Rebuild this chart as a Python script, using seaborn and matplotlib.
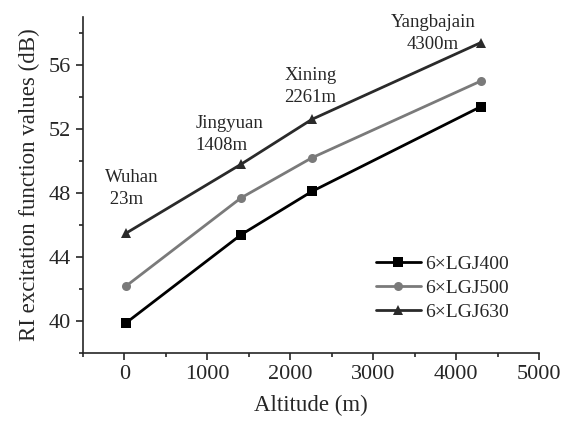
import pandas as pd
import seaborn as sns
from matplotlib import pyplot as plt
from matplotlib.ticker import MultipleLocator

# altitude of the four sites (m)
altitude = [23, 1408, 2261, 4300]
sites = ["Wuhan\n 23m", "Jingyuan\n1408m", "Xining\n2261m", "Yangbajain\n4300m"]

# RI excitation function values (dB)
lgj400 = [39.9, 45.4, 48.1, 53.4]
lgj500 = [42.2, 47.7, 50.2, 55.0]
lgj630 = [45.5, 49.8, 52.6, 57.4]

series_names = ["6×LGJ400", "6×LGJ500", "6×LGJ630"]

rows = []
for name, vals in zip(series_names, [lgj400, lgj500, lgj630]):
    for a, v in zip(altitude, vals):
        rows.append({"Altitude": a, "RI": v, "Conductor": name})
df = pd.DataFrame(rows)

sns.set_style("ticks")
plt.rcParams["font.family"] = ["Liberation Serif", "DejaVu Serif"]

fig = plt.figure(figsize=(5.71, 4.23), dpi=100)
ax = fig.add_axes([0.145, 0.165, 0.799, 0.795])

sns.lineplot(data=df, x="Altitude", y="RI", hue="Conductor", style="Conductor",
             palette=["#000000", "#7a7a7a", "#2a2a2a"],
             markers=["s", "o", "^"], dashes=False, markersize=6.5,
             linewidth=2, markeredgewidth=0, ax=ax)

# site labels: (x, top y, alignment)
label_pos = [(-229, 49.5, "left"), (855, 52.9, "left"),
             (1928, 55.9, "left"), (3723, 59.2, "center")]
for (lx, ly, ha), s in zip(label_pos, sites):
    ax.text(lx, ly, s, fontsize=13.5, ha=ha, va="top", linespacing=1.4)

ax.set_xlim(-500, 5000)
ax.set_ylim(38, 59)
ax.xaxis.set_major_locator(MultipleLocator(1000))
ax.xaxis.set_minor_locator(MultipleLocator(500))
ax.yaxis.set_major_locator(MultipleLocator(4))
ax.yaxis.set_minor_locator(MultipleLocator(2))
ax.tick_params(which="both", direction="out", labelsize=16, width=1.2)
ax.tick_params(which="major", length=5)
ax.tick_params(which="minor", length=3)
for sp in ["left", "bottom"]:
    ax.spines[sp].set_linewidth(1.2)
sns.despine(ax=ax)

ax.set_xlabel("Altitude (m)", fontsize=16.5, labelpad=8)
ax.set_ylabel("RI excitation function values (dB)", fontsize=16.5, labelpad=6)

ax.legend(loc="upper left", bbox_to_anchor=(0.645, 0.415),
          bbox_transform=fig.transFigure, borderaxespad=0, frameon=False,
          fontsize=14, handlelength=2.3, labelspacing=0.32, handletextpad=0.2)

fig.savefig("out.png", dpi=100)
